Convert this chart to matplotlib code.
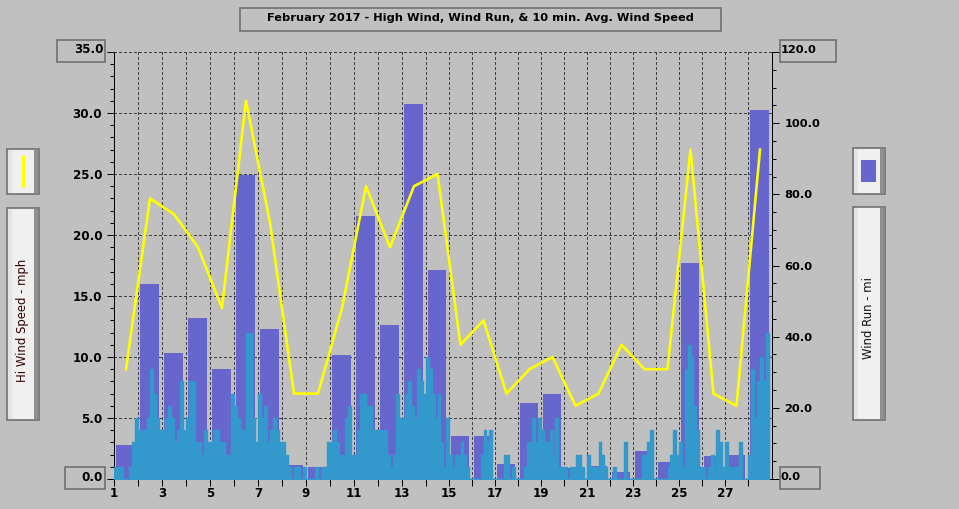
import numpy as np
from matplotlib import pyplot as plt
from matplotlib.patches import Rectangle
from matplotlib.transforms import ScaledTranslation

days = np.arange(1, 29)
# daily wind run, miles (right axis)
wind_run = [9.6, 54.8, 35.4, 45.2, 30.9, 85.4, 42.2, 3.9, 3.4, 34.9,
            73.9, 43.3, 105.4, 58.7, 12.1, 12.1, 4.2, 21.4, 23.9, 3.1,
            3.7, 2.0, 7.9, 4.8, 60.7, 6.5, 6.7, 103.7]
# daily high wind, mph (left axis)
hi_wind = [9, 23, 21.7, 19, 14, 31, 21, 7, 7, 14,
           24, 19, 24, 25, 11, 13, 7, 9, 10, 6,
           7, 11, 9, 9, 27, 7, 6, 27]
# 10 min avg wind speed, eight readings per day
avg_wind = [1, 1, 1, 0, 0, 1, 3, 5,
            4, 4, 4, 5, 9, 7, 5, 4,
            4, 5, 6, 5, 3, 4, 8, 4,
            5, 8, 8, 3, 3, 2, 4, 3,
            3, 4, 4, 3, 3, 2, 2, 7,
            6, 5, 4, 4, 12, 12, 5, 3,
            7, 5, 6, 3, 4, 5, 4, 3,
            3, 2, 1, 0, 1, 1, 0, 1,
            0, 0, 0, 1, 0, 1, 1, 3,
            3, 4, 3, 2, 2, 5, 6, 2,
            2, 4, 7, 7, 6, 6, 4, 4,
            4, 4, 4, 2, 1, 2, 7, 5,
            5, 7, 8, 6, 5, 9, 8, 7,
            10, 9, 7, 5, 7, 3, 1, 5,
            2, 1, 2, 2, 3, 2, 1, 0,
            0, 0, 0, 2, 4, 3, 4, 0,
            0, 0, 0, 2, 2, 0, 1, 0,
            0, 0, 1, 3, 3, 5, 3, 5,
            4, 3, 3, 4, 2, 5, 1, 1,
            1, 0, 1, 1, 2, 2, 1, 0,
            2, 1, 1, 1, 3, 2, 1, 0,
            0, 1, 0, 0, 0, 3, 0, 0,
            0, 0, 0, 2, 2, 3, 4, 0,
            0, 0, 0, 0, 1, 2, 4, 2,
            3, 1, 9, 11, 10, 6, 4, 1,
            1, 0, 1, 2, 1, 4, 3, 1,
            3, 1, 1, 1, 1, 3, 0, 0,
            2, 9, 5, 8, 10, 8, 12, 7]
left_ticks = [0, 5, 10, 15, 20, 25, 30, 35]
right_ticks = [0, 20, 40, 60, 80, 100, 120]
title = 'February 2017 - High Wind, Wind Run, & 10 min. Avg. Wind Speed'

W, H = 959, 509
BG = '#c0c0c0'
BAR = '#6666cc'
TEAL = '#3399cc'
PX = 0.72  # one pixel in points
plt.rcParams['font.family'] = ['DejaVu Sans']

# the original spaces days unevenly: 24 px up to the 14th, 23 px after
day_pts = [1, 14, 28, 29]
px_pts = [0, 312, 634, 658]


def day2px(d):
    return np.interp(d, day_pts, px_pts)


def px2day(p):
    return np.interp(p, px_pts, day_pts)


def nudge(label, dx, dy):
    # move one tick label by some pixels
    label.set_transform(label.get_transform()
                        + ScaledTranslation(dx / 100, dy / 100,
                                            fig.dpi_scale_trans))


fig = plt.figure(figsize=(W / 100, H / 100), dpi=100, facecolor=BG)
rect = [114 / W, 1 - 479 / H, 658 / W, 427 / H]
ax = fig.add_axes(rect, facecolor=BG)
ax.set_xscale('function', functions=(day2px, px2day))
ax.set_xlim(1, 29)
ax.set_ylim(0, 35)
ax.set_xticks(np.arange(1, 29))
ax.set_xticklabels([str(d) if d % 2 else '' for d in range(1, 29)],
                   fontsize=8.6, fontweight='bold')
ax.set_yticks(left_ticks)
ax.set_yticklabels(['%.1f' % v for v in left_ticks], fontsize=8.6,
                   fontweight='bold')
ax.set_yticks(np.arange(0, 36), minor=True)
ax.tick_params(axis='x', length=5, width=PX, pad=1)
ax.xaxis.set_tick_params(which='minor', length=0)
ax.tick_params(axis='y', which='major', length=5, width=PX, pad=3.5)
ax.tick_params(axis='y', which='minor', length=3, width=PX)
ax.grid(True, which='major', color='#404040', linestyle=(0, (2.5, 2.5)),
        linewidth=PX, antialiased=False)
ax.spines['top'].set_visible(False)
ax.spines['right'].set_visible(False)
for s in ax.spines.values():
    s.set_linewidth(PX)
for lab in ax.get_yticklabels():
    if lab.get_text() == '35.0':
        nudge(lab, 1, 4)
    if lab.get_text() == '0.0':
        nudge(lab, 1, 3)

ax_run = ax.twinx()
ax_run.set_ylim(0, 120)
ax_run.set_yticks(right_ticks)
ax_run.set_yticklabels(['%.1f' % v for v in right_ticks], fontsize=8.2,
                       fontweight='bold')
ax_run.set_yticks(np.arange(0, 121, 5), minor=True)
ax_run.tick_params(axis='y', which='major', length=5, width=PX, pad=4)
ax_run.tick_params(axis='y', which='minor', length=3, width=PX)
ax_run.spines['top'].set_visible(False)
for s in ax_run.spines.values():
    s.set_linewidth(PX)
for lab in ax_run.get_yticklabels():
    if lab.get_text() in ('120.0', '0.0'):
        nudge(lab, -4, 3)
ax_run.bar(days + 0.47, wind_run, width=0.79, color=BAR, linewidth=0)

ax_hi = ax.twinx()
ax_hi.set_ylim(0, 35)
ax_hi.set_yticks([])
ax_hi.patch.set_visible(False)
for s in ax_hi.spines.values():
    s.set_visible(False)
avg_x = 1 + np.arange(len(avg_wind)) / 8
ax_hi.fill_between(avg_x, avg_wind, step='post', color=TEAL, linewidth=1)
ax_hi.plot(days + 0.5, hi_wind, color='#ffff00', linewidth=1.9)

# window furniture, in pixels from the top left
bg = fig.add_axes([0, 0, 1, 1], zorder=5)
bg.set_xlim(0, W)
bg.set_ylim(H, 0)
bg.axis('off')


def box(x0, y0, x1, y1):
    bg.add_patch(Rectangle((x0, y0), x1 - x0, y1 - y0, fc='none',
                           ec='#707070', lw=1.2))


def button(x0, y0, x1, y1):
    bg.add_patch(Rectangle((x0, y0), x1 - x0, y1 - y0, fc='#f0f0f0',
                           ec='#707070', lw=1.2))
    bg.add_patch(Rectangle((x0 + 1, y0 + 1), 4, y1 - y0 - 2, fc='#e4e4e4',
                           lw=0))
    bg.add_patch(Rectangle((x1 - 5, y0 + 1), 4, y1 - y0 - 2, fc='#909090',
                           lw=0))


box(240, 8, 721, 31)
bg.text(480, 18, title, ha='center', va='center', fontsize=8.2,
        fontweight='bold')
box(57, 40, 105, 62)
box(65, 467, 105, 489)
box(780, 40, 836, 62)
box(780, 467, 820, 489)

button(7, 149, 39, 194)
button(7, 208, 39, 420)
button(853, 148, 885, 194)
button(853, 207, 885, 420)
bg.plot([23, 23], [155, 187], color='#ffff00', lw=2.4, solid_capstyle='butt')
bg.add_patch(Rectangle((861, 160), 15, 22, fc=BAR, lw=0))
bg.text(23, 320, 'Hi Wind Speed - mph', rotation=90, ha='center', va='center',
        fontsize=8.4, color='#300000')
bg.text(869, 318, 'Wind Run - mi', rotation=90, ha='center', va='center',
        fontsize=8.4, color='#101010')

fig.savefig('out.png', dpi=100, facecolor=BG)
